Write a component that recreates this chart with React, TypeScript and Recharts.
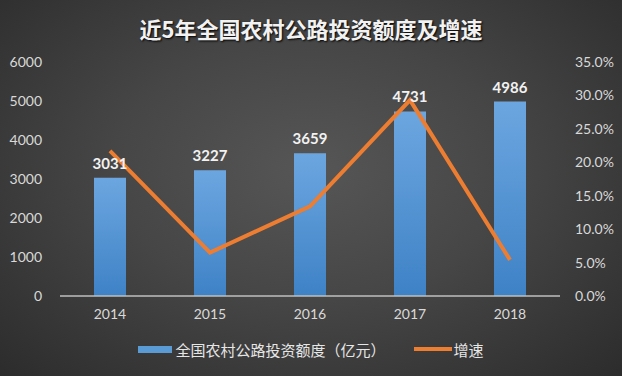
import React from "react";
import { ComposedChart, Bar, Line, XAxis, YAxis, LabelList } from "recharts";

const years = ["2014", "2015", "2016", "2017", "2018"];
const investment = [3031, 3227, 3659, 4731, 4986];
const growth = [21.7, 6.5, 13.4, 29.3, 5.4];
const leftTicks = [0, 1000, 2000, 3000, 4000, 5000, 6000];
const rightTicks = [0, 5, 10, 15, 20, 25, 30, 35];

const data = years.map((year, i) => ({ year, investment: investment[i], growth: growth[i] }));

const tickStyle = { fill: "#d9d9d9", fontSize: 14, fontFamily: "Lato, 'Noto Sans', sans-serif" };

export default function App() {
  return (
    <div
      style={{
        position: "absolute",
        left: 0,
        top: 0,
        width: 622,
        height: 376,
        background: "radial-gradient(ellipse at 50% 45%, #565656 0%, #464646 45%, #2c2c2c 100%)",
        overflow: "hidden",
      }}
    >
      <div
        style={{
          position: "absolute",
          top: 12,
          left: 0,
          width: 622,
          textAlign: "center",
          color: "#f2f2f2",
          fontSize: 22,
          fontWeight: "bold",
          fontFamily: "'Noto Sans CJK SC', sans-serif",
          lineHeight: "32px",
          textShadow: "1px 1px 2px #000",
        }}
      >
        近5年全国农村公路投资额度及增速
      </div>
      <ComposedChart
        width={622}
        height={376}
        data={data}
        margin={{ top: 62, right: 0, bottom: 0, left: 0 }}
      >
        <defs>
          <linearGradient id="barGrad" x1="0" y1="0" x2="0" y2="1">
            <stop offset="0%" stopColor="#6ca6e0" />
            <stop offset="100%" stopColor="#3e82c6" />
          </linearGradient>
        </defs>
        <XAxis
          dataKey="year"
          axisLine={{ stroke: "#bfbfbf", strokeWidth: 1.5 }}
          tickLine={false}
          tickSize={0}
          tickMargin={13}
          tick={tickStyle}
          height={80}
        />
        <YAxis
          yAxisId="left"
          domain={[0, 6000]}
          ticks={leftTicks}
          axisLine={false}
          tickLine={false}
          tickSize={0}
          tickMargin={18}
          tick={tickStyle}
          width={60}
        />
        <YAxis
          yAxisId="right"
          orientation="right"
          domain={[0, 35]}
          ticks={rightTicks}
          tickFormatter={(v: number) => v.toFixed(1) + "%"}
          axisLine={false}
          tickLine={false}
          tickSize={0}
          tickMargin={15}
          tick={tickStyle}
          width={62}
        />
        <Bar yAxisId="left" dataKey="investment" fill="url(#barGrad)" barSize={32} isAnimationActive={false}>
          <LabelList
            dataKey="investment"
            position="top"
            offset={9}
            fill="#f2f2f2"
            fontSize={15}
            fontWeight="bold"
            fontFamily="Lato, 'Noto Sans', sans-serif"
          />
        </Bar>
        <Line
          yAxisId="right"
          dataKey="growth"
          stroke="#ed7d31"
          strokeWidth={4}
          dot={false}
          type="linear"
          isAnimationActive={false}
        />
      </ComposedChart>
      <div
        style={{
          position: "absolute",
          top: 338,
          left: 0,
          width: 622,
          height: 22,
          display: "flex",
          alignItems: "center",
          justifyContent: "center",
          color: "#e6e6e6",
          fontSize: 15,
          fontFamily: "'Noto Sans CJK SC', sans-serif",
        }}
      >
        <span style={{ display: "inline-block", width: 34, height: 7, background: "#5b9bd5", marginRight: 3 }} />
        <span>全国农村公路投资额度（亿元）</span>
        <span style={{ display: "inline-block", width: 38, height: 4, background: "#ed7d31", marginLeft: 28, marginRight: 2 }} />
        <span>增速</span>
      </div>
    </div>
  );
}
